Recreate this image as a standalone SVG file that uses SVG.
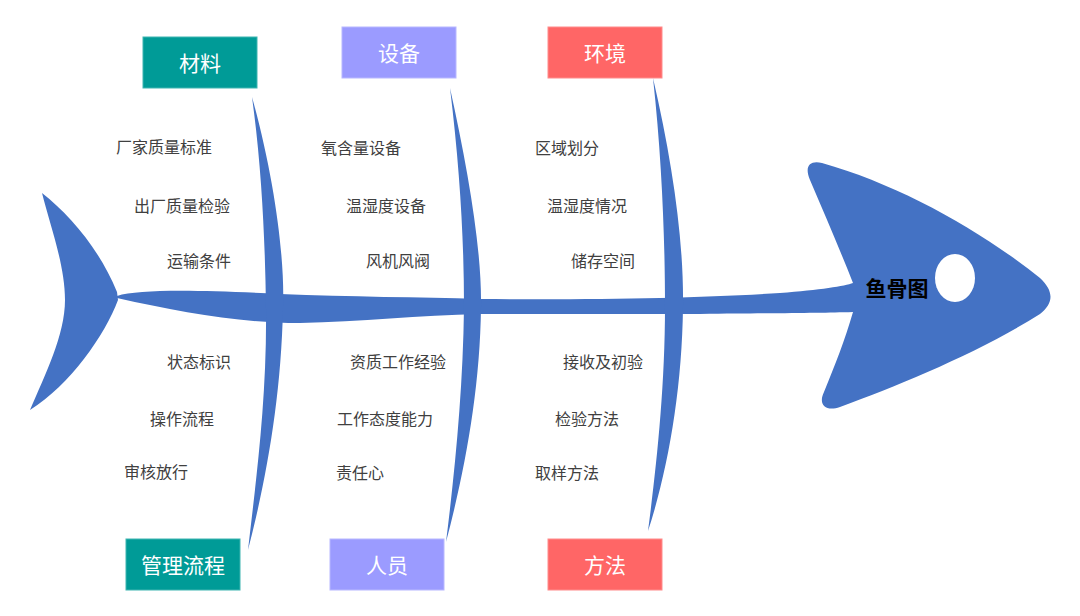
<svg xmlns="http://www.w3.org/2000/svg" width="1080" height="616" viewBox="0 0 1080 616">
<style>
.fish{fill:#4472C4}
.cat{font-family:"Noto Sans CJK SC","Noto Sans",sans-serif;font-size:21px;fill:#fff;text-anchor:middle;dominant-baseline:central}
.leaf{font-family:"Noto Sans CJK SC","Noto Sans",sans-serif;font-size:16px;fill:#404040;dominant-baseline:central}
.title{font-family:"Noto Sans CJK SC","Noto Sans",sans-serif;font-size:21px;font-weight:bold;fill:#000;text-anchor:middle;dominant-baseline:central}
.teal{fill:#009B97;stroke:#3fb5b1;stroke-width:1}
.violet{fill:#9B9BFF;stroke:#b8b8ff;stroke-width:1}
.coral{fill:#FF6666;stroke:#ff8c8c;stroke-width:1}
</style>
<rect width="1080" height="616" fill="#fff"/>
<g id="connectors">
<path id="tail" class="fish" d="M42,193 C70,215 100,250 117,292 L118,300 C105,335 70,385 30,410 C45,375 65,335 65,300 C65,265 50,225 42,193 Z"/>
<path id="spine" class="fish" d="M117,296 C140,289 200,290 280,294 C350,297 420,297 480,299 C600,300 700,298 780,293 C820,290 845,286 853,283 L853,312 C820,313 790,313 700,314 C600,314 520,314 480,314 C420,315 360,322 300,323 C240,323 180,312 117,298 Z"/>
<path id="rib1" class="fish" d="M252,97 C275,180 285,260 283,308 C281,400 266,480 248,550 C256,480 267,400 266,308 C265,240 262,170 252,97 Z"/>
<path id="rib2" class="fish" d="M450,88 C468,170 482,250 481,307 C480,390 465,470 446,542 C455,470 463,390 464,307 C464,240 460,170 450,88 Z"/>
<path id="rib3" class="fish" d="M653,78 C672,160 684,240 683,307 C682,390 668,470 648,531 C656,470 665,390 665,307 C665,240 662,160 653,78 Z"/>
</g>
<g id="head">
<path class="fish" d="M853,283 C840,250 825,215 810,180 C804,166 810,160 822,163 C900,185 980,230 1040,278 C1055,292 1053,304 1040,314 C980,352 900,385 840,407 C825,412 818,404 824,392 C835,365 845,340 853,312 Z"/>
<ellipse cx="955" cy="278" rx="20" ry="24" fill="#fff"/>
<text class="title" x="897" y="287">鱼骨图</text>
</g>
<g id="cat-材料"><rect class="teal" x="143" y="37" width="114" height="51"/><text class="cat" x="200" y="62">材料</text></g>
<g id="cat-设备"><rect class="violet" x="342" y="27" width="114" height="51"/><text class="cat" x="399" y="52">设备</text></g>
<g id="cat-环境"><rect class="coral" x="548" y="27" width="114" height="51"/><text class="cat" x="605" y="52">环境</text></g>
<g id="cat-管理流程"><rect class="teal" x="126" y="539" width="114" height="51"/><text class="cat" x="183" y="564">管理流程</text></g>
<g id="cat-人员"><rect class="violet" x="330" y="539" width="114" height="51"/><text class="cat" x="387" y="564">人员</text></g>
<g id="cat-方法"><rect class="coral" x="548" y="539" width="114" height="51"/><text class="cat" x="605" y="564">方法</text></g>
<g id="leaves-材料">
<text class="leaf" x="116" y="146">厂家质量标准</text>
<text class="leaf" x="134" y="205">出厂质量检验</text>
<text class="leaf" x="167" y="260">运输条件</text>
</g>
<g id="leaves-管理流程">
<text class="leaf" x="167" y="361">状态标识</text>
<text class="leaf" x="150" y="418">操作流程</text>
<text class="leaf" x="124" y="471">审核放行</text>
</g>
<g id="leaves-设备">
<text class="leaf" x="321" y="147">氧含量设备</text>
<text class="leaf" x="346" y="205">温湿度设备</text>
<text class="leaf" x="366" y="260">风机风阀</text>
</g>
<g id="leaves-人员">
<text class="leaf" x="350" y="361">资质工作经验</text>
<text class="leaf" x="337" y="418">工作态度能力</text>
<text class="leaf" x="336" y="472">责任心</text>
</g>
<g id="leaves-环境">
<text class="leaf" x="535" y="147">区域划分</text>
<text class="leaf" x="547" y="205">温湿度情况</text>
<text class="leaf" x="571" y="260">储存空间</text>
</g>
<g id="leaves-方法">
<text class="leaf" x="563" y="361">接收及初验</text>
<text class="leaf" x="555" y="418">检验方法</text>
<text class="leaf" x="535" y="472">取样方法</text>
</g>
</svg>
